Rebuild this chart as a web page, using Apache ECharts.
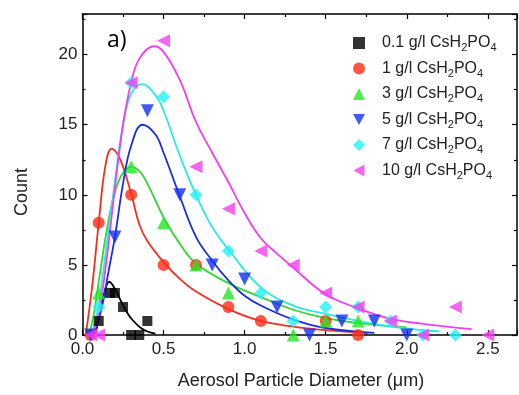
<!DOCTYPE html>
<html><head><meta charset="utf-8">
<script src="https://cdn.jsdelivr.net/npm/echarts@6/dist/echarts.min.js"></script>
<style>html,body{margin:0;padding:0;background:#fff}#c{width:519px;height:395px}</style>
</head><body><div id="c"></div>
<script>
// ---- data ----
const seriesLabels = ['0.1 g/l', '1 g/l', '3 g/l', '5 g/l', '7 g/l', '10 g/l'];
const xTicks = [0, 0.5, 1.0, 1.5, 2.0, 2.5];
const yTicks = [0, 5, 10, 15, 20];

const pts01 = [[0.1,1],[0.17,3],[0.2,3],[0.25,2],[0.3,0],[0.35,0],[0.4,1]];
const pts1  = [[0.05,0],[0.1,8],[0.3,10],[0.5,5],[0.7,5],[0.9,2],[1.1,1],[1.5,1],[1.7,0]];
const pts3  = [[0.1,3],[0.3,12],[0.5,8],[0.7,5],[0.9,3],[1.3,0],[1.5,1],[1.7,1]];
const pts5  = [[0.05,0],[0.2,7],[0.4,16],[0.6,10],[0.8,5],[1.0,4],[1.2,2],[1.4,0],[1.6,1],[1.8,1],[2.0,0]];
const pts7  = [[0.1,2],[0.3,18],[0.5,17],[0.7,10],[0.9,6],[1.1,3],[1.3,1],[1.5,2],[1.7,2],[1.9,1],[2.1,0],[2.3,0]];
const pts10 = [[0.05,0],[0.1,0],[0.3,18],[0.5,21],[0.7,12],[0.9,9],[1.1,6],[1.3,5],[1.5,3],[1.7,2],[1.9,1],[2.1,0],[2.3,2],[2.5,0]];

const fit01 = [[0.08,0],[0.1,1.2],[0.13,2.8],[0.165,3.8],[0.2,3.3],[0.23,2.6],[0.27,1.7],[0.31,1.05],[0.36,0.5],[0.4,0.25],[0.45,0.1]];
const fit1  = [[0.02,0],[0.06,3.5],[0.1,8],[0.14,12],[0.18,13.3],[0.23,12.6],[0.3,10.1],[0.35,7.9],[0.4,6.7],[0.5,5.2],[0.6,4.0],[0.7,3.1],[0.9,1.85],[1.1,1.0],[1.3,0.6],[1.5,0.35],[1.75,0.15]];
const fit3  = [[0.04,0],[0.07,1.5],[0.1,3.8],[0.15,7.5],[0.2,10.2],[0.25,11.6],[0.3,12],[0.35,11.7],[0.4,10.8],[0.5,8.4],[0.6,6.5],[0.7,5.1],[0.9,3.7],[1.1,2.7],[1.3,1.8],[1.5,1.2],[1.7,0.85],[2.0,0.55]];
const fit5  = [[0.07,0],[0.12,2],[0.16,4.5],[0.2,7],[0.25,10.8],[0.3,13.5],[0.37,15],[0.45,14.3],[0.5,13],[0.6,9.9],[0.7,7],[0.8,5.3],[0.9,3.9],[1.0,2.8],[1.1,2.1],[1.3,1.1],[1.5,0.5],[1.8,0.15]];
const fit7  = [[0.05,0],[0.08,1],[0.1,2.2],[0.15,6.5],[0.2,11],[0.25,15],[0.3,17.2],[0.37,17.9],[0.45,17.1],[0.5,16],[0.6,12.8],[0.7,10],[0.8,7.7],[0.9,6.1],[1.1,3.4],[1.3,2.1],[1.5,1.5],[1.7,1.0],[1.9,0.6],[2.2,0.25]];
const fit10 = [[0.06,0],[0.1,1.5],[0.15,5.5],[0.2,10.5],[0.25,15],[0.3,18],[0.35,19.7],[0.44,20.6],[0.5,20.2],[0.6,18.2],[0.7,15.2],[0.8,13],[0.9,10.9],[1.0,8.7],[1.1,6.9],[1.2,5.8],[1.3,4.8],[1.5,2.9],[1.7,1.9],[1.9,1.15],[2.1,0.8],[2.4,0.42]];

// ---- chart ----
const FONT = 'Liberation Sans, Arial, sans-serif';
const markerColors = ['#000000', '#ff2a14', '#22e822', '#1030ee', '#22f2f2', '#f63cf0'];
const lineColors   = ['#000000', '#f23020', '#33d633', '#1a2ee0', '#2ee8e8', '#f040f0'];
const symbols = ['rect', 'circle', 'triangle', 'path://M0,0 L10,0 L5,9 Z', 'path://M5,0 L10,5 L5,10 L0,5 Z', 'path://M0,5 L9,0 L9,10 Z'];
const sizes = [10, 12, 13, 13, 13, 13];
const ptsAll = [pts01, pts1, pts3, pts5, pts7, pts10];
const fitAll = [fit01, fit1, fit3, fit5, fit7, fit10];

const series = [];
fitAll.forEach((d, i) => series.push({
  name: 'fit' + i, type: 'line', data: d, smooth: 0.4, symbol: 'none',
  lineStyle: { color: lineColors[i], width: 1.8 }, z: 2, silent: true
}));
ptsAll.forEach((d, i) => series.push({
  name: seriesLabels[i], type: 'scatter', data: d, symbol: symbols[i], symbolSize: sizes[i],
  itemStyle: { color: markerColors[i] }, z: 3
}));

const axisLineStyle = { lineStyle: { color: '#000', width: 1.5 } };
function xAxis(pos, labels) {
  return {
    type: 'value', position: pos, min: 0, max: 2.68, interval: 0.5,
    axisLine: { show: true, onZero: false, ...axisLineStyle },
    axisTick: { show: true, inside: true, length: 5, lineStyle: { color: '#000', width: 1.2 } },
    minorTick: { show: true, splitNumber: 2, length: 3, lineStyle: { color: '#000', width: 1.2 } },
    splitLine: { show: false },
    axisLabel: { show: labels, showMaxLabel: false, margin: 6, fontSize: 17, color: '#222', fontFamily: FONT,
      formatter: v => v.toFixed(1) }
  };
}
function yAxis(pos, labels) {
  return {
    type: 'value', position: pos, min: 0, max: 22.9, interval: 5,
    axisLine: { show: true, onZero: false, ...axisLineStyle },
    axisTick: { show: true, inside: true, length: 5, lineStyle: { color: '#000', width: 1.2 } },
    minorTick: { show: true, splitNumber: 2, length: 3, lineStyle: { color: '#000', width: 1.2 } },
    splitLine: { show: false },
    axisLabel: { show: labels, showMaxLabel: false, margin: 5, fontSize: 17, color: '#222', fontFamily: FONT }
  };
}

const chart = echarts.init(document.getElementById('c'), null, { renderer: 'canvas' });
chart.setOption({
  animation: false,
  backgroundColor: '#fff',
  grid: { left: 82.5, right: 2, top: 14, bottom: 60 },
  xAxis: [xAxis('bottom', true), xAxis('top', false)],
  yAxis: [yAxis('left', true), yAxis('right', false)],
  legend: {
    data: seriesLabels, orient: 'vertical', left: 348, top: 30, itemGap: 7,
    itemWidth: 12, itemHeight: 12, selectedMode: false,
    formatter: n => '{n|' + n + ' CsH}{s|2}{n|PO}{s|4}',
    textStyle: {
      padding: [0, 0, 0, 12],
      rich: {
        n: { fontSize: 16, fontFamily: FONT, color: '#222' },
        s: { fontSize: 11, fontFamily: FONT, color: '#222', padding: [10, 0, 0, 0] }
      }
    }
  },
  graphic: [
    { type: 'text', left: 107, top: 29, style: { text: 'a)', fontSize: 23, fontFamily: 'Open Sans, sans-serif', fill: '#000' } },
    { type: 'text', x: 22, y: 192, rotation: Math.PI / 2, style: { text: 'Count', fontSize: 18, fontFamily: FONT, fill: '#222', align: 'center', verticalAlign: 'middle' } },
    { type: 'text', x: 301, y: 381, style: { text: 'Aerosol Particle Diameter (μm)', fontSize: 18, fontFamily: FONT, fill: '#222', align: 'center', verticalAlign: 'middle' } }
  ],
  series
});
</script></body></html>
